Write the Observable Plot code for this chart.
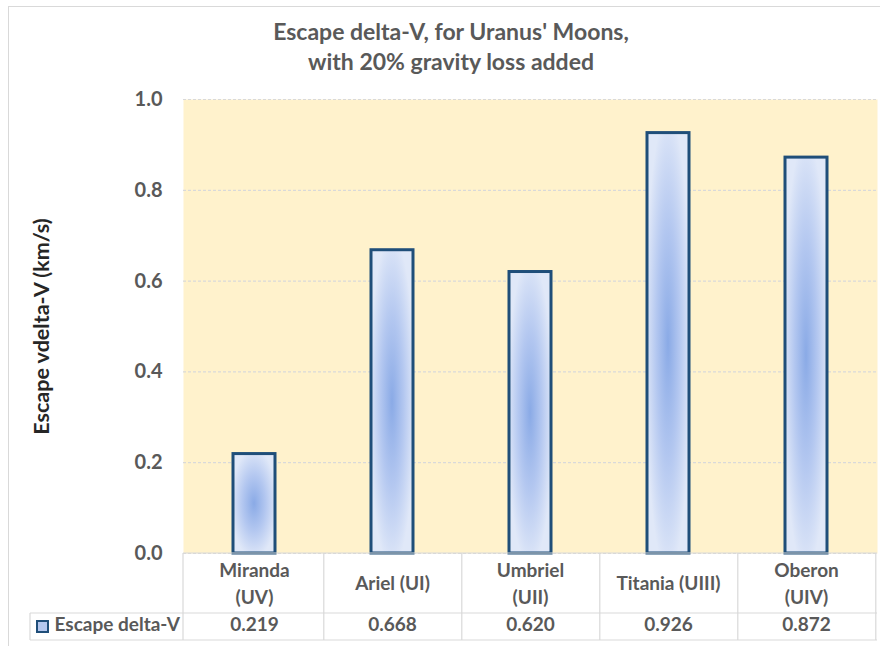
<!DOCTYPE html>
<html>
<head>
<meta charset="utf-8">
<script src="https://cdn.jsdelivr.net/npm/d3@7"></script>
<script src="https://cdn.jsdelivr.net/npm/@observablehq/plot@0.6"></script>
<style>
  html, body { margin: 0; padding: 0; background: #fff; }
  #wrap { position: relative; width: 880px; height: 646px; overflow: hidden; background: #fff; font-family: Lato, "Open Sans", sans-serif; }
  #border { position: absolute; left: 8px; top: 6px; width: 900px; height: 700px; border-left: 1.5px solid #d9d9d9; border-top: 1.5px solid #d9d9d9; }
  #title { position: absolute; left: 20px; width: 862px; top: 16px; text-align: center; font-weight: bold; font-size: 23px; line-height: 30px; color: #595959; }
  #chart { position: absolute; left: 0; top: 80px; }
</style>
</head>
<body>
<div id="wrap">
  <div id="border"></div>
  <div id="title">Escape delta-V, for Uranus' Moons,<br>with 20% gravity loss added</div>
  <div id="chart"></div>
</div>
<script>
// ---- data ----
const moons = ["Miranda\n(UV)", "Ariel (UI)", "Umbriel\n(UII)", "Titania (UIII)", "Oberon\n(UIV)"];
const escapeDeltaV = [0.219, 0.668, 0.620, 0.926, 0.872];
const yTicks = [0, 0.2, 0.4, 0.6, 0.8, 1.0];
const seriesName = "Escape delta-V";
const yLabel = "Escape vdelta-V (km/s)";

const data = moons.map((m, i) => ({moon: m, value: escapeDeltaV[i]}));

const W = 880, H = 566;
const mL = 183, mR = 3, mT = 19, mB = 93;

function tableGrid(index, scales, values, dims) {
  const g = d3.create("svg:g");
  const top = dims.height - dims.marginBottom;
  const row1 = top + 60, row2 = top + 87;
  const left = dims.marginLeft, right = dims.width - dims.marginRight;
  const bw = (right - left) / moons.length;
  const legendLeft = 30;
  const line = (x1, y1, x2, y2) => g.append("line")
    .attr("x1", x1).attr("y1", y1).attr("x2", x2).attr("y2", y2)
    .attr("stroke", "#d9d9d9").attr("stroke-width", 1.2);
  line(left, top, right, top);
  line(legendLeft, row1, right, row1);
  line(legendLeft, row2, right, row2);
  line(legendLeft, row1, legendLeft, row2);
  line(left, top, left, row2);
  moons.forEach(m => {
    const x0 = scales.x(m);
    line(x0 + bw, top, x0 + bw, row2);
  });
  // legend key
  g.append("rect").attr("x", 37).attr("y", row1 + 8).attr("width", 11).attr("height", 11)
    .attr("fill", "#b4c7ee").attr("stroke", "#1f4e79").attr("stroke-width", 2);
  return g.node();
}

const chart = Plot.plot({
  width: W,
  height: H,
  marginLeft: mL,
  marginRight: mR,
  marginTop: mT,
  marginBottom: mB,
  style: {fontFamily: "Lato, 'Open Sans', sans-serif", fontWeight: "bold", color: "#595959", background: "transparent"},
  x: {domain: moons, padding: 0, label: null},
  y: {domain: [0, 1], label: null},
  marks: [
    Plot.frame({fill: "#fff2cc", stroke: null}),
    Plot.gridY(yTicks, {stroke: "#d9d9d9", strokeOpacity: 1, strokeDasharray: "3,2", strokeWidth: 1.2}),
    Plot.barY(data, {x: "moon", y: "value", fill: "url(#barGrad)", stroke: "#1f4e79", strokeWidth: 3, insetLeft: 48, insetRight: 48}),
    Plot.axisY(yTicks, {tickSize: 0, tickPadding: 21, tickFormat: d3.format(".1f"), fontSize: 20, label: null, color: "#595959"}),
    Plot.axisX({tickSize: 0, tickPadding: 28, lineAnchor: "middle", lineHeight: 1.45, fontSize: 19, label: null, color: "#595959"}),
    Plot.text([yLabel], {frameAnchor: "left", textAnchor: "middle", dx: -141, rotate: -90, fontSize: 21.5, fill: "#262626"}),
    tableGrid,
    Plot.text(data, {x: "moon", text: d => d.value.toFixed(3), frameAnchor: "bottom", dy: 77, fontSize: 19, fill: "#595959"}),
    Plot.text([seriesName], {frameAnchor: "bottom-left", dx: -129, dy: 77, textAnchor: "start", fontSize: 19, fill: "#595959"})
  ]
});

d3.select(chart).insert("defs", ":first-child").html(
  `<radialGradient id="barGrad" cx="0.5" cy="0.5" r="0.55">
     <stop offset="0" stop-color="#8aaae6"/>
     <stop offset="0.5" stop-color="#b3c7f0"/>
     <stop offset="1" stop-color="#e0e8f8"/>
   </radialGradient>`
);

document.getElementById("chart").appendChild(chart);
</script>
</body>
</html>
